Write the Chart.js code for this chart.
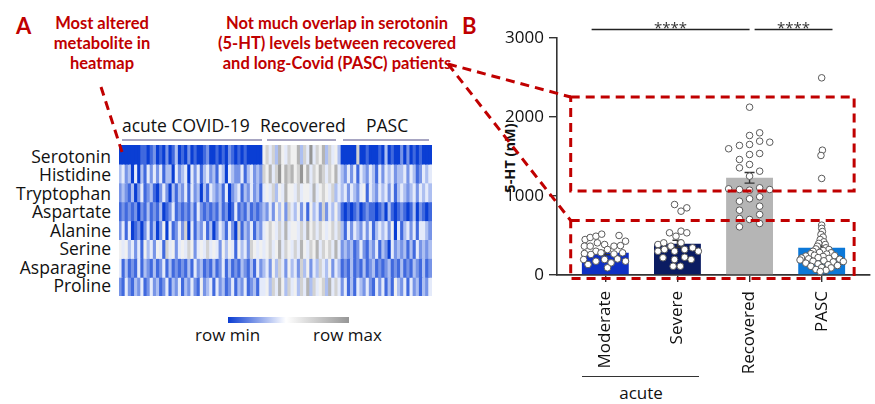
<!DOCTYPE html>
<html><head><meta charset="utf-8">
<script src="https://cdn.jsdelivr.net/npm/chart.js@4.4.1/dist/chart.umd.min.js"></script>
<style>
body{margin:0;background:#fff;}
#wrap{position:relative;width:875px;height:404px;overflow:hidden;font-family:"Open Sans",sans-serif;color:#111;background:#fff;}
.t{position:absolute;white-space:nowrap;}
.red{color:#c00000;font-family:Lato,sans-serif;font-weight:700;}
.blk{position:absolute;text-align:center;font-size:16.5px;line-height:20px;}
.row{position:absolute;left:0;width:111px;text-align:right;font-size:17.5px;line-height:18px;white-space:nowrap;}
.grp{position:absolute;font-size:17.5px;line-height:22px;}
.brk{position:absolute;height:0;border-top:2px solid #a7a5c2;top:139px;}
</style></head><body>
<div id="wrap">
  <div class="t red" style="left:16px;top:13px;font-size:22px;line-height:26px">A</div>
  <div class="t red" style="left:462px;top:13px;font-size:22px;line-height:26px">B</div>
  <div class="blk red" style="left:22px;top:13px;width:160px">Most altered<br>metabolite in<br>heatmap</div>
  <div class="blk red" style="left:207px;top:13px;width:260px">Not much overlap in serotonin<br>(5-HT) levels between recovered<br>and long-Covid (PASC) patients</div>

  <div class="grp" style="left:122px;top:114px">acute COVID-19</div>
  <div class="grp" style="left:260px;top:114px">Recovered</div>
  <div class="grp" style="left:366px;top:114px">PASC</div>
  <div class="brk" style="left:122px;width:140px"></div>
  <div class="brk" style="left:267px;width:69px"></div>
  <div class="brk" style="left:343px;width:86px"></div>

  <div id="rows"></div>

  <div style="position:absolute;left:228px;top:317px;width:121px;height:6px;background:linear-gradient(to right,rgb(10,60,210),#ffffff 48%,rgb(150,150,150));"></div>
  <div class="t" style="left:195px;top:324px;font-size:17px;line-height:22px">row min</div>
  <div class="t" style="left:313px;top:324px;font-size:17px;line-height:22px">row max</div>

  <div style="position:absolute;left:582px;top:376px;width:117px;border-top:1.5px solid #333"></div>
  <div class="t" style="left:611px;top:382px;width:60px;text-align:center;font-size:17px;line-height:22px">acute</div>

  <div class="t" style="left:460px;top:148px;width:100px;height:20px;line-height:20px;text-align:center;font-size:14.5px;font-weight:700;transform:rotate(-90deg);transform-origin:50px 10px;">5-HT (nM)</div>

  <canvas id="hm" width="313" height="151" style="position:absolute;left:119px;top:145px"></canvas>
  <canvas id="main" width="875" height="404" style="position:absolute;left:0;top:0"></canvas>
</div>
<script>
// ---------- Panel A: heatmap (digits 0 = row min (blue) ... 9 = row max (gray)) ----------
const rowNames = ['Serotonin','Histidine','Tryptophan','Aspartate','Alanine','Serine','Asparagine','Proline'];
const hmSerotonin  = "0000000110"+"1201020130"+"1020100120"+"0101021010"+"100000" + "5646375465"+"5736484657"+"36453" + "0000060010"+"0010301002"+"020101000";
const hmHistidine  = "3423040314"+"2424133042"+"3404241342"+"3143043224"+"134232" + "6574685767"+"5685746576"+"46574" + "3242414324"+"3142434233"+"424312434";
const hmTryptophan = "2321302412"+"3102420313"+"2414230314"+"3231402341"+"324231" + "4546354755"+"4645547456"+"54634" + "3424324514"+"3243424134"+"323424343";
const hmAspartate  = "1212120213"+"1213012412"+"1213142121"+"2131201412"+"131212" + "3242535264"+"3524153426"+"24353" + "1010120121"+"1012031012"+"101302101";
const hmAlanine    = "2414012024"+"1302504124"+"2604132413"+"0243142061"+"324132" + "4565464745"+"5464756465"+"45646" + "3142432424"+"1343425041"+"342414432";
const hmSerine     = "5453424153"+"4254164524"+"5465245464"+"5425354153"+"426545" + "4564574654"+"6475465746"+"56474" + "2323124213"+"2413204232"+"313142323";
const hmAsparagine = "4131214132"+"1312413121"+"2131423121"+"3124131213"+"213142" + "3425364253"+"4263524364"+"35243" + "1213121312"+"3121231213"+"121321312";
const hmProline    = "2142132412"+"4231241324"+"1324215234"+"1423124132"+"412314" + "4536475364"+"5364736456"+"37464" + "2413143242"+"1424131532"+"414231324";
const heatRows = [hmSerotonin,hmHistidine,hmTryptophan,hmAspartate,hmAlanine,hmSerine,hmAsparagine,hmProline];

// ---------- Panel B: serotonin (5-HT, nM) ----------
const categories = ['Moderate','Severe','Recovered','PASC'];
const meanHT = [282, 395, 1230, 344];
const semHT  = [25, 45, 67, 60];
const yTicks = [0, 1000, 2000, 3000];
// [horizontal offset within group (category units), value nM]
const ptsModerate = [[-0.28,449],[-0.21,475],[-0.13,491],[-0.05,517],[0.19,500],[0.28,428],[-0.11,407],[-0.29,365],[-0.21,365],[-0.01,386],[0.12,365],[0.21,372],[-0.13,301],[0.03,323],[-0.29,272],[-0.20,260],[-0.06,281],[0.12,266],[0.24,281],[-0.30,196],[-0.13,175],[-0.01,196],[0.08,154],[0.17,203],[0.28,175],[-0.24,133],[0.03,91]];
const ptsSevere = [[-0.04,892],[0.05,808],[0.13,850],[-0.11,534],[0.05,555],[0.13,534],[-0.02,491],[-0.27,386],[-0.19,407],[-0.09,365],[0.05,407],[0.21,344],[0.29,301],[-0.27,301],[-0.18,323],[-0.04,301],[0.10,323],[-0.20,218],[-0.04,196],[0.10,225],[0.19,196],[-0.06,111],[0.04,111]];
const ptsRecovered = [[0,2124],[0.14,1800],[0,1766],[0.14,1694],[0.28,1681],[0,1652],[-0.14,1640],[-0.29,1598],[0,1525],[0.14,1538],[-0.14,1462],[0,1399],[-0.14,1357],[0.14,1314],[0,1251],[-0.29,1091],[-0.14,1082],[0,1074],[0.14,1104],[0.28,1082],[0,965],[-0.14,934],[0.14,990],[0.14,871],[-0.14,820],[0.14,766],[-0.14,715],[0,703],[0.14,652],[-0.14,610]];
const ptsPASC = [[0,2496],[0.01,1580],[-0.01,1513],[0,1222],[0,631],[0,590],[0.01,550],[-0.01,513],[0.02,480],[-0.02,449],[0.03,420],[-0.04,400],[0.05,386],[-0.06,365],[0.06,344],[-0.08,330],[0.10,323],[-0.12,300],[0.02,310],[0.13,281],[-0.03,285],[-0.15,270],[0.07,265],[-0.22,240],[-0.10,250],[0.18,245],[0.02,235],[-0.28,215],[-0.18,205],[-0.05,220],[0.10,210],[0.25,200],[0.30,170],[-0.30,190],[-0.12,175],[0.03,180],[0.16,165],[-0.22,150],[-0.05,140],[0.09,130],[0.22,120],[-0.15,110],[0,95],[0.13,90],[-0.08,70],[0.06,60],[-0.02,45]];
const groupPts = [ptsModerate, ptsSevere, ptsRecovered, ptsPASC];
const barColors = ['#0f30c4','#0b1c62','#b5b5b5','#0c78d8'];
// significance brackets: [x from, x to] in category units
const sigPairs = [[-0.19, 2.0], [2.07, 3.15]];
const sigLevel = 3110;
// dashed red zoom boxes (data units)
const zoomBoxes = [{x0:-0.48,x1:3.45,y0:1063,y1:2253},{x0:-0.48,x1:3.45,y0:-44,y1:690}];

// ---------- row labels ----------
const rowsDiv = document.getElementById('rows');
rowNames.forEach((n,i)=>{
  const d = document.createElement('div');
  d.className='row'; d.textContent=n;
  d.style.top = (147 + i*18.43) + 'px';
  rowsDiv.appendChild(d);
});

function hmColor(d){
  const t = d/9;
  let c;
  if(t < 0.5){ const u=t/0.5; c=[10+(255-10)*u, 62+(255-62)*u, 212+(255-212)*u]; }
  else { const u=(t-0.5)/0.5; c=[255-(255-120)*u, 255-(255-120)*u, 255-(255-120)*u]; }
  return 'rgb('+c.map(Math.round).join(',')+')';
}

new Chart(document.getElementById('hm'), {
  type:'bar',
  data:{
    labels: heatRows[0].split('').map((_,i)=>String(i)),
    datasets: heatRows.map((s,r)=>({
      label: rowNames[r],
      data: s.split('').map(()=>1),
      backgroundColor: s.split('').map(ch=>hmColor(+ch)),
      borderWidth:0, barPercentage:1, categoryPercentage:1, inflateAmount:0.6
    }))
  },
  options:{
    responsive:false, animation:false, devicePixelRatio:1,
    layout:{padding:0},
    plugins:{legend:{display:false}, tooltip:{enabled:false}},
    scales:{
      x:{display:false, stacked:true},
      y:{display:false, stacked:true, min:0, max:8, reverse:true}
    }
  }
});

const RED = '#c00000';
const annot = {
  id:'annot',
  afterDatasetDraw(chart, args){
    if(args.index !== 0) return;
    const {ctx, scales:{x,y}} = chart;
    ctx.save();
    ctx.strokeStyle='#333'; ctx.lineWidth=1.4;
    meanHT.forEach((m,i)=>{
      const xp = x.getPixelForValue(i);
      const yt = y.getPixelForValue(m+semHT[i]), yb = y.getPixelForValue(m-semHT[i]);
      ctx.beginPath();
      ctx.moveTo(xp,yt); ctx.lineTo(xp,yb);
      ctx.moveTo(xp-5,yt); ctx.lineTo(xp+5,yt);
      ctx.moveTo(xp-5,yb); ctx.lineTo(xp+5,yb);
      ctx.stroke();
    });
    ctx.restore();
  },
  afterDraw(chart){
    const {ctx, scales:{x,y}} = chart;
    ctx.save();
    // significance
    const ys = Math.round(y.getPixelForValue(sigLevel))+0.5;
    ctx.strokeStyle='#222'; ctx.lineWidth=1.3;
    ctx.fillStyle='#333'; ctx.font='15px "Open Sans"'; ctx.textAlign='center'; ctx.textBaseline='alphabetic';
    sigPairs.forEach(([a,b])=>{
      const xa=x.getPixelForValue(a), xb=x.getPixelForValue(b);
      ctx.beginPath(); ctx.moveTo(xa,ys); ctx.lineTo(xb,ys); ctx.stroke();
      ctx.fillText('****',(xa+xb)/2, ys+3);
    });
    // red dashed boxes
    ctx.strokeStyle=RED; ctx.lineWidth=3; ctx.setLineDash([9,6]);
    const corners=[];
    zoomBoxes.forEach(b=>{
      const x0=x.getPixelForValue(b.x0), x1=x.getPixelForValue(b.x1);
      const y0=y.getPixelForValue(b.y1), y1=y.getPixelForValue(b.y0);
      ctx.strokeRect(x0,y0,x1-x0,y1-y0);
      corners.push([x0,y0]);
    });
    // connector lines
    ctx.beginPath();
    corners.forEach(([cx,cy])=>{ ctx.moveTo(448,64); ctx.lineTo(cx,cy); });
    ctx.moveTo(101,87); ctx.lineTo(122,152);
    ctx.stroke();
    ctx.restore();
  }
};

const scatterData = [];
groupPts.forEach((g,i)=>g.forEach(([dx,v])=>scatterData.push({x:i+dx, y:v})));

new Chart(document.getElementById('main'), {
  type:'bar',
  data:{datasets:[
    {type:'bar', data: meanHT.map((v,i)=>({x:i,y:v})), backgroundColor: barColors, borderWidth:0, barPercentage:0.65, categoryPercentage:1, order:2},
    {type:'scatter', data: scatterData, pointRadius:3.3, pointBackgroundColor:'#fff', pointBorderColor:'#5a5a5a', pointBorderWidth:1, order:1}
  ]},
  options:{
    responsive:false, animation:false, devicePixelRatio:1,
    layout:{padding:{left:490, right:2, top:38, bottom:0}},
    plugins:{legend:{display:false}, tooltip:{enabled:false}},
    scales:{
      x:{type:'linear', min:-0.67, max:3.67, offset:false,
        afterBuildTicks: s=>{ s.ticks = categories.map((c,i)=>({value:i})); },
        afterFit: s=>{ s.height = 129; s.paddingLeft = 0; s.paddingRight = 0; },
        grid:{drawOnChartArea:false, offset:false, tickLength:7, color:'#333', lineWidth:1.4},
        border:{color:'#333', width:1.8},
        ticks:{autoSkip:false, minRotation:90, maxRotation:90, padding:9, color:'#111',
          font:{family:'Open Sans', size:17}, callback:(v)=>categories[v]}
      },
      y:{min:0, max:3000,
        afterBuildTicks: s=>{ s.ticks = yTicks.map(v=>({value:v})); },
        afterFit: s=>{ s.width = 67; s.paddingTop = 0; s.paddingBottom = 0; },
        grid:{drawOnChartArea:false, tickLength:8, color:'#333', lineWidth:1.4},
        border:{color:'#333', width:1.6},
        ticks:{padding:5, color:'#111', font:{family:'Open Sans', size:17}, callback:(v)=>String(v)},
        title:{display:false}
      }
    }
  },
  plugins:[annot]
});
</script>
</body></html>
